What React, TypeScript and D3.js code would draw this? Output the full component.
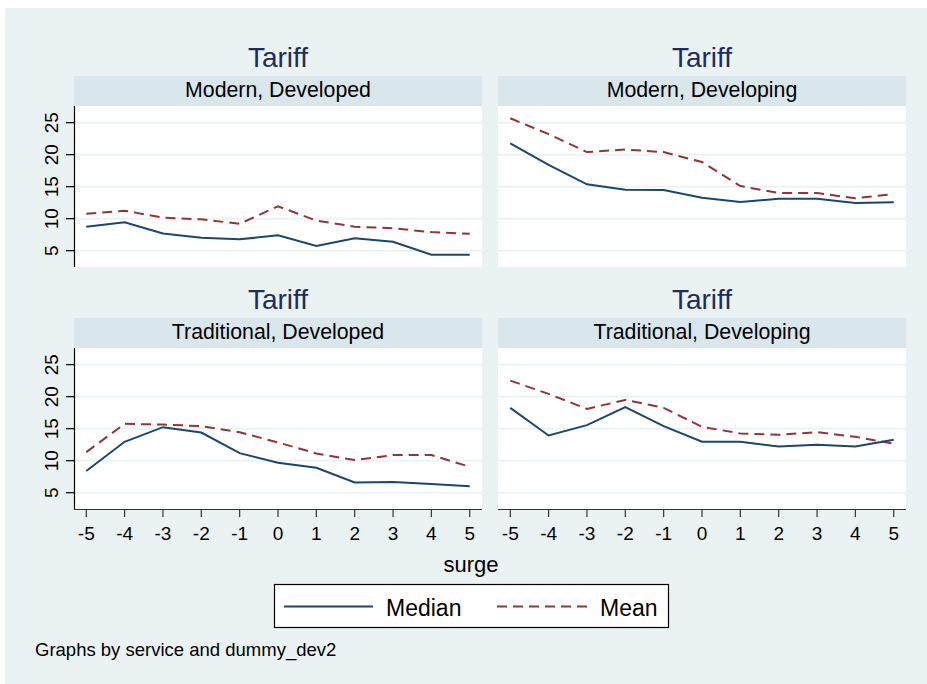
import React from "react";
import * as d3 from "d3";

const surge = [-5, -4, -3, -2, -1, 0, 1, 2, 3, 4, 5];
const yTicks = [5, 10, 15, 20, 25];
const panelTitles = ["Modern, Developed", "Modern, Developing", "Traditional, Developed", "Traditional, Developing"];
const headerTitle = "Tariff";

const modernDevelopedMedian = [8.75, 9.43, 7.7, 7.03, 6.77, 7.4, 5.73, 6.93, 6.4, 4.38, 4.38];
const modernDevelopedMean = [10.78, 11.25, 10.15, 9.9, 9.2, 11.93, 9.7, 8.75, 8.5, 7.9, 7.65];
const modernDevelopingMedian = [21.77, 18.4, 15.36, 14.53, 14.48, 13.28, 12.6, 13.1, 13.1, 12.45, 12.55];
const modernDevelopingMean = [25.68, 23.2, 20.4, 20.8, 20.4, 18.85, 15.1, 14.0, 14.0, 13.18, 13.85];
const traditionalDevelopedMedian = [8.38, 12.95, 15.23, 14.4, 11.18, 9.68, 8.9, 6.6, 6.66, 6.35, 5.99];
const traditionalDevelopedMean = [11.34, 15.75, 15.65, 15.39, 14.45, 12.84, 11.13, 10.09, 10.87, 10.87, 9.05];
const traditionalDevelopingMedian = [18.25, 13.94, 15.55, 18.35, 15.39, 12.95, 12.95, 12.22, 12.48, 12.22, 13.26];
const traditionalDevelopingMean = [22.5, 20.43, 18.09, 19.49, 18.25, 15.29, 14.25, 14.04, 14.45, 13.73, 12.64];

const medians = [modernDevelopedMedian, modernDevelopingMedian, traditionalDevelopedMedian, traditionalDevelopingMedian];
const means = [modernDevelopedMean, modernDevelopingMean, traditionalDevelopedMean, traditionalDevelopingMean];

const NAVY = "#1a476f";
const MAROON = "#90353b";
const BG = "#eaf2f3";
const STRIP = "#d9e6eb";
const TITLE = "#1e2d5c";
const FONT = "'Liberation Sans', Arial, Helvetica, sans-serif";

const panelW = 408;
const stripH = 30;
const plotH = 161;
const lefts = [74, 498];
const tops = [76, 318];

function Panel({ idx }: { idx: number }) {
  const col = idx % 2;
  const row = Math.floor(idx / 2);
  const x0 = lefts[col];
  const sTop = tops[row];
  const pTop = sTop + stripH;
  const pBot = pTop + plotH;
  const x = d3.scaleLinear().domain([-5.32, 5.32]).range([x0, x0 + panelW]);
  const y = d3.scaleLinear().domain([2.45, 27.6]).range([pBot, pTop]);
  const line = d3
    .line<number>()
    .x((_, i) => x(surge[i]))
    .y((d) => y(d));
  return (
    <g>
      <text x={x0 + panelW / 2} y={sTop - 9.5} textAnchor="middle" fontSize={28} fill={TITLE} fontFamily={FONT}>
        {headerTitle}
      </text>
      <rect x={x0} y={sTop} width={panelW} height={stripH} fill={STRIP} />
      <text x={x0 + panelW / 2} y={sTop + 21} textAnchor="middle" fontSize={21.3} fill="#000" fontFamily={FONT}>
        {panelTitles[idx]}
      </text>
      <rect x={x0} y={pTop} width={panelW} height={plotH} fill="#fff" />
      {yTicks.map((t) => (
        <line key={t} x1={x0} x2={x0 + panelW} y1={y(t)} y2={y(t)} stroke={BG} strokeWidth={1.6} />
      ))}
      {col === 0 && (
        <g>
          <line x1={x0 + 0.5} x2={x0 + 0.5} y1={pTop} y2={pBot} stroke="#000" strokeWidth={1.2} />
          {yTicks.map((t) => (
            <g key={t}>
              <line x1={x0 - 8} x2={x0} y1={y(t)} y2={y(t)} stroke="#000" strokeWidth={1.2} />
              <text
                transform={`translate(${x0 - 16},${y(t)}) rotate(-90)`}
                textAnchor="middle"
                fontSize={19}
                fontFamily={FONT}
                fill="#000"
              >
                {t}
              </text>
            </g>
          ))}
        </g>
      )}
      {row === 1 && (
        <g>
          <line x1={x0} x2={x0 + panelW} y1={pBot + 0.5} y2={pBot + 0.5} stroke="#333" strokeWidth={1.2} />
          {surge.map((t) => (
            <g key={t}>
              <line x1={x(t)} x2={x(t)} y1={pBot} y2={pBot + 8} stroke="#333" strokeWidth={1.2} />
              <text x={x(t)} y={pBot + 31} textAnchor="middle" fontSize={19} fontFamily={FONT} fill="#000">
                {t}
              </text>
            </g>
          ))}
        </g>
      )}
      <path d={line(means[idx]) || ""} fill="none" stroke={MAROON} strokeWidth={2} strokeDasharray="10,6" />
      <path d={line(medians[idx]) || ""} fill="none" stroke={NAVY} strokeWidth={2} />
    </g>
  );
}

export default function App() {
  return (
    <svg width={927} height={684} style={{ position: "absolute", left: 0, top: 0 }}>
      <rect x={0} y={0} width={927} height={684} fill="#fff" />
      <rect x={5} y={8} width={922} height={676} fill={BG} />
      {[0, 1, 2, 3].map((i) => (
        <Panel key={i} idx={i} />
      ))}
      <text x={471} y={572} textAnchor="middle" fontSize={22} fontFamily={FONT} fill="#000">
        surge
      </text>
      <rect x={274.5} y={584.5} width={394} height={43} fill="#fff" stroke="#000" strokeWidth={1.2} />
      <line x1={284} x2={373} y1={606.5} y2={606.5} stroke={NAVY} strokeWidth={2} />
      <text x={386} y={615.5} fontSize={23} fontFamily={FONT} fill="#000">
        Median
      </text>
      <line x1={497} x2={587} y1={606.5} y2={606.5} stroke={MAROON} strokeWidth={2} strokeDasharray="10,6" />
      <text x={600} y={615.5} fontSize={23} fontFamily={FONT} fill="#000">
        Mean
      </text>
      <text x={35} y={656} fontSize={18.5} fontFamily={FONT} fill="#000">
        Graphs by service and dummy_dev2
      </text>
    </svg>
  );
}
